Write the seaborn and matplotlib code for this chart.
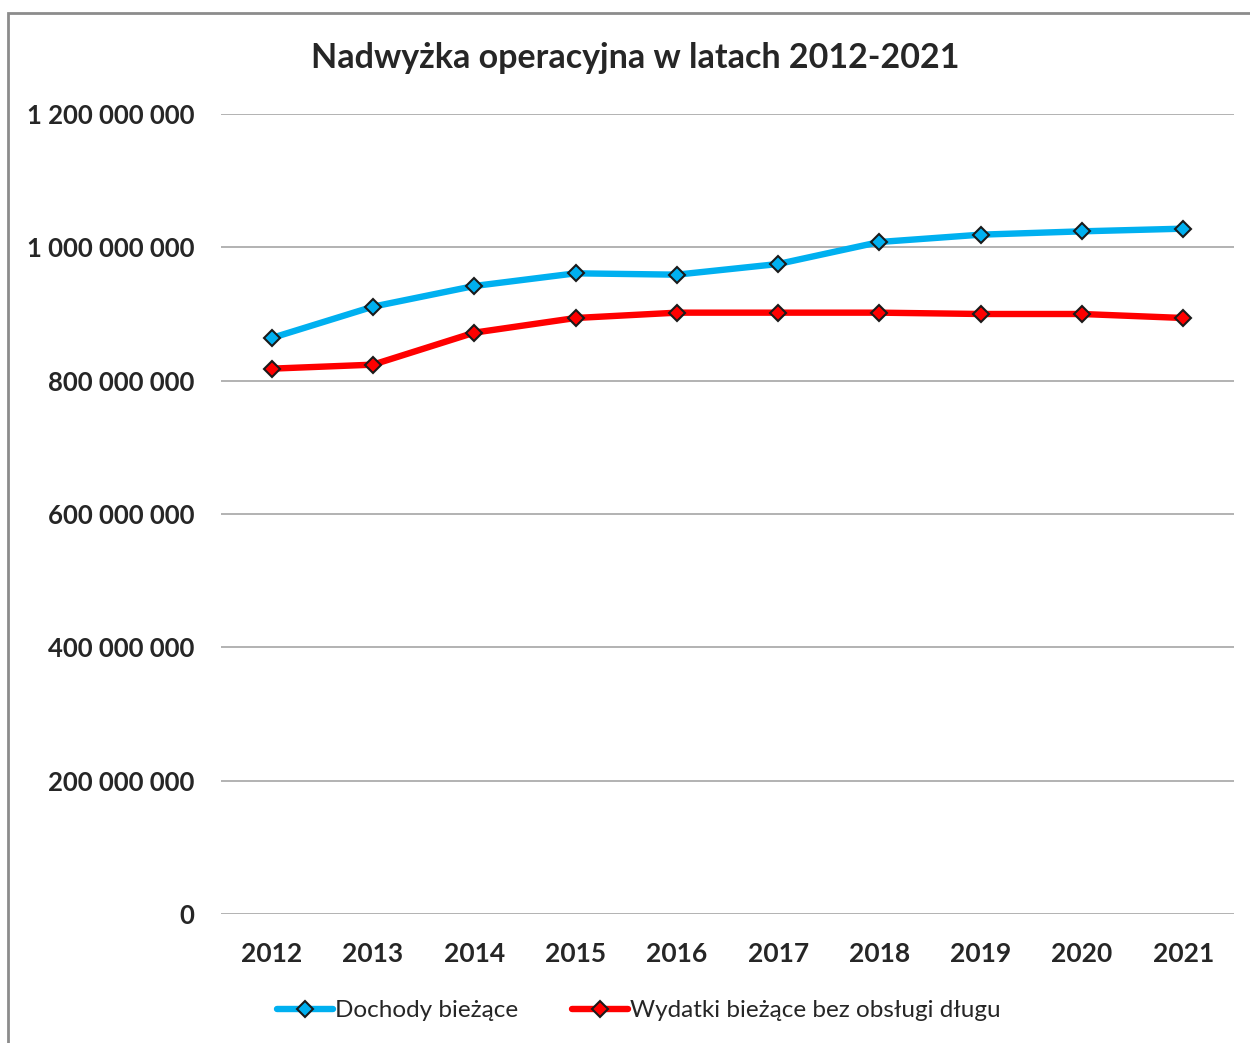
import pandas as pd
import matplotlib.pyplot as plt
import seaborn as sns
from matplotlib.patches import Rectangle
from matplotlib.ticker import FuncFormatter

# dane
lata = ["2012", "2013", "2014", "2015", "2016", "2017", "2018", "2019", "2020", "2021"]
dochody = [864e6, 911e6, 942e6, 961e6, 959e6, 975e6, 1008e6, 1019e6, 1024e6, 1028e6]
wydatki = [818e6, 824e6, 872e6, 894e6, 902e6, 902e6, 902e6, 900e6, 900e6, 894e6]
serie = ["Dochody bieżące", "Wydatki bieżące bez obsługi długu"]
kolory = ["#00b0f0", "#ff0000"]

df = pd.DataFrame({
    "rok": lata * 2,
    "wartosc": dochody + wydatki,
    "seria": [serie[0]] * len(lata) + [serie[1]] * len(lata),
})

sns.set_style("white")
plt.rcParams["font.family"] = ["Lato", "DejaVu Sans"]

fig = plt.figure(figsize=(12.5, 10.43), dpi=100)
ax = fig.add_axes([0.1768, 0.1237, 0.8104, 0.767])

sns.lineplot(data=df, x="rok", y="wartosc", hue="seria", palette=kolory,
             marker="D", markersize=8, markeredgecolor="#1a1a1a",
             markeredgewidth=1.5, linewidth=4.6, ax=ax, sort=False)

ax.set_ylim(0, 1.2e9)
ax.set_xlim(-0.5, 9.5)
ax.set_yticks([0, 2e8, 4e8, 6e8, 8e8, 1e9, 1.2e9])
ax.yaxis.set_major_formatter(FuncFormatter(lambda v, p: f"{int(v):,}".replace(",", " ")))
ax.grid(axis="y", color="#a6a6a6", linewidth=1.2)
ax.set_axisbelow(True)
for s in ax.spines.values():
    s.set_visible(False)
ax.tick_params(axis="y", length=0, labelsize=18.5, pad=19)
ax.tick_params(axis="x", length=0, labelsize=19, pad=20)
for lab in ax.get_xticklabels() + ax.get_yticklabels():
    lab.set_fontweight("bold")
ax.set_xlabel("")
ax.set_ylabel("")

fig.text(0.508, 0.944, "Nadwyżka operacyjna w latach 2012-2021", ha="center",
         va="center", fontsize=24.5, fontweight="bold")

h, l = ax.get_legend_handles_labels()
ax.get_legend().remove()
fig.legend(h, l, loc="center", bbox_to_anchor=(0.511, 0.031), ncol=2, frameon=False,
           fontsize=17.5, handlelength=2.3, handletextpad=0.1, columnspacing=2.2)

# ramka obszaru wykresu
fig.patches.append(Rectangle((8 / 1250, -0.01), 1.1, 1 - 13 / 1043 + 0.01,
                             transform=fig.transFigure, fill=False,
                             edgecolor="#8c8c8c", linewidth=2))

fig.savefig("out.png", dpi=100)
plt.close()
